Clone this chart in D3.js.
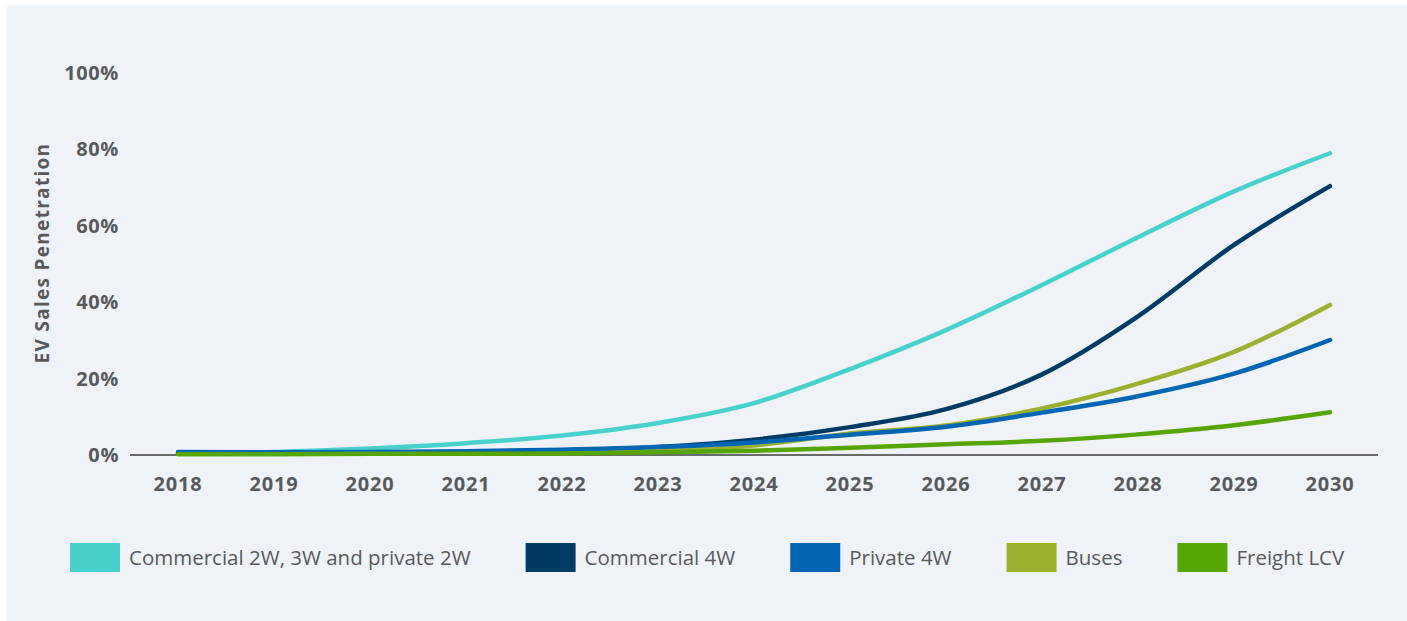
<!DOCTYPE html>
<html><head><meta charset="utf-8">
<script src="https://cdn.jsdelivr.net/npm/d3@7"></script>
<style>
html,body{margin:0;padding:0;background:#fff;}
svg{display:block;}
</style></head>
<body>
<svg id="chart" width="1407" height="621"></svg>
<script>
const years = [2018,2019,2020,2021,2022,2023,2024,2025,2026,2027,2028,2029,2030];
const yTicks = [0,20,40,60,80,100];
const seriesNames = ["Commercial 2W, 3W and private 2W","Commercial 4W","Private 4W","Buses","Freight LCV"];
const seriesColors = ["#48d0cc","#003b64","#0066b3","#9bb02f","#55a504"];
const commercial2W3W = [0.5,0.8,1.7,3.1,5.1,8.4,13.6,22.5,32.7,44.5,57.0,69.0,79.0];
const commercial4W   = [0.5,0.5,0.6,0.8,1.2,2.1,4.0,7.3,12.0,21.1,36.3,55.0,70.4];
const private4W      = [0.8,0.7,0.8,1.0,1.4,2.1,3.3,5.3,7.4,11.1,15.4,21.3,30.1];
const buses          = [0.3,0.3,0.3,0.4,0.6,1.2,2.5,5.6,7.7,12.2,18.7,27.0,39.3];
const freightLCV     = [0.2,0.2,0.3,0.3,0.4,0.7,1.1,1.9,2.8,3.7,5.4,7.8,11.2];
const seriesValues = [commercial2W3W, commercial4W, private4W, buses, freightLCV];
const drawOrder = [0,1,3,2,4];

const svg = d3.select("#chart");
svg.append("rect").attr("x",7).attr("y",5).attr("width",1400).attr("height",616).attr("fill","#eff3f8");

const x = d3.scalePoint().domain(years).range([178,1330]);
const y = d3.scaleLinear().domain([0,100]).range([455,73]);
const textColor = "#58595b";
const boldFont = "'Open Sans', sans-serif";

// y tick labels
svg.append("g").selectAll("text").data(yTicks).join("text")
  .attr("x",119).attr("y",d=>y(d)).attr("dy","0.35em")
  .attr("text-anchor","end")
  .attr("font-family",boldFont).attr("font-weight",700).attr("font-size",20)
  .attr("letter-spacing",0.6)
  .attr("fill",textColor)
  .text(d=>d+"%");

// x axis line
svg.append("line").attr("x1",130).attr("x2",1378).attr("y1",y(0)).attr("y2",y(0))
  .attr("stroke","#6a6a6c").attr("stroke-width",2);

// x tick labels
svg.append("g").selectAll("text").data(years).join("text")
  .attr("x",d=>x(d)).attr("y",484).attr("dy","0.35em")
  .attr("text-anchor","middle")
  .attr("font-family",boldFont).attr("font-weight",700).attr("font-size",20)
  .attr("letter-spacing",0.8)
  .attr("fill",textColor)
  .text(d=>d);

// y axis title
svg.append("text")
  .attr("transform","translate(49,253) rotate(-90)")
  .attr("text-anchor","middle")
  .attr("font-family",boldFont).attr("font-weight",700).attr("font-size",19)
  .attr("letter-spacing",1.3)
  .attr("fill",textColor)
  .text("EV Sales Penetration");

// lines
const line = d3.line().x((d,i)=>x(years[i])).y(d=>y(d)).curve(d3.curveMonotoneX);
svg.append("g").selectAll("path").data(drawOrder).join("path")
  .attr("d",i=>line(seriesValues[i]))
  .attr("fill","none")
  .attr("stroke",i=>seriesColors[i])
  .attr("stroke-width",4.5)
  .attr("stroke-linecap","round")
  .attr("stroke-linejoin","round");

// legend
const lg = svg.append("g");
let lx = 70;
seriesNames.forEach((name,i)=>{
  lg.append("rect").attr("x",lx).attr("y",543).attr("width",50).attr("height",29).attr("fill",seriesColors[i]);
  const t = lg.append("text").attr("x",lx+59).attr("y",558).attr("dy","0.35em")
    .attr("font-family","'Open Sans', sans-serif").attr("font-size",20.5)
    .attr("fill",textColor).text(name);
  const w = t.node().getComputedTextLength();
  lx = lx + 59 + w + 55;
});
</script>
</body></html>
